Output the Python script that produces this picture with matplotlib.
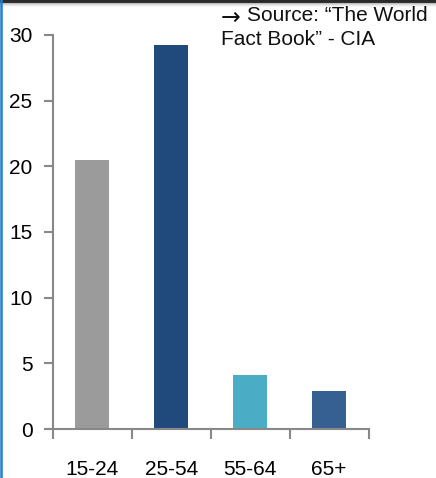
import matplotlib
matplotlib.use("Agg")
import matplotlib.pyplot as plt
from matplotlib.lines import Line2D

# Age structure (% of population), CIA World Factbook
age_groups = ["15-24", "25-54", "55-64", "65+"]
share = [20.5, 29.2, 4.1, 2.9]
bar_colors = ["#9b9b9b", "#214a7c", "#4bacc6", "#376092"]
y_ticks = [0, 5, 10, 15, 20, 25, 30]

plt.rcParams["font.family"] = ["Liberation Sans", "DejaVu Sans"]
AXIS_GRAY = "#888888"

fig = plt.figure(figsize=(4.36, 4.78), dpi=100)
ax = fig.add_axes([0.1209, 0.1025, 0.7243, 0.8243])

x = range(len(age_groups))
ax.bar(x, share, width=0.43, color=bar_colors)

ax.set_xlim(-0.5, len(age_groups) - 0.5)
ax.set_ylim(0, 30)

for side in ("top", "right"):
    ax.spines[side].set_visible(False)
for side in ("left", "bottom"):
    ax.spines[side].set_color(AXIS_GRAY)
    ax.spines[side].set_linewidth(1.5)

ax.set_yticks(y_ticks)
ax.tick_params(axis="y", length=6.5, width=1.5, color=AXIS_GRAY, pad=8, labelsize=15)

# category boundaries carry the tick marks, labels sit under the bars
ax.set_xticks([i - 0.5 for i in range(len(age_groups) + 1)])
ax.set_xticklabels([])
ax.set_xticks(list(x), minor=True)
ax.set_xticklabels(age_groups, minor=True)
ax.tick_params(axis="x", which="major", length=7, width=1.5, color=AXIS_GRAY)
ax.tick_params(axis="x", which="minor", length=0, pad=22, labelsize=15)

# source note, arrow drawn in DejaVu for a full-size glyph
fig.text(0.505, 0.9635, "\u2192", ha="left", va="center", fontsize=17,
         family="DejaVu Sans", color="#111111")
fig.text(0.567, 0.988, "Source: \u201cThe World", ha="left", va="top",
         fontsize=15, color="#111111")
fig.text(0.507, 0.938, "Fact Book\u201d - CIA", ha="left", va="top",
         fontsize=15, color="#111111")

# slide frame: dark top edge with soft shadow, blue left edge
fig.add_artist(Line2D([0, 1], [0.998, 0.998], color="#2b2b2b", lw=2.5, transform=fig.transFigure))
for i, c in enumerate(["#bdbdbd", "#d8d8d8", "#ebebeb", "#f6f6f6"]):
    yy = 1 - (3 + i) / 478
    fig.add_artist(Line2D([0, 1], [yy, yy], color=c, lw=0.8, transform=fig.transFigure))
fig.add_artist(Line2D([0.002, 0.002], [0, 1], color="#1f7fd0", lw=1.8, transform=fig.transFigure))

fig.savefig("out.png", dpi=100)
